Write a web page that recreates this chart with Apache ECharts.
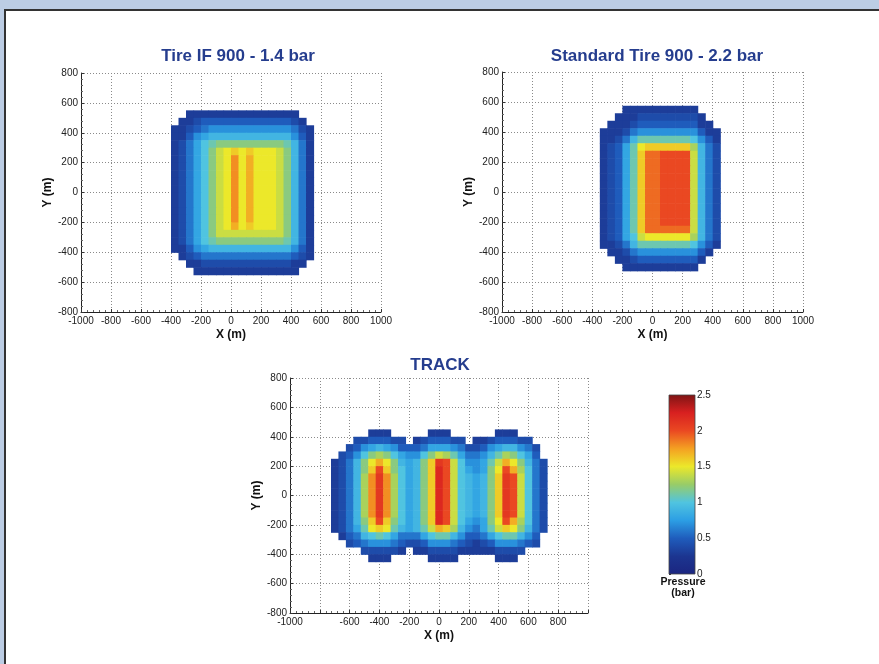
<!DOCTYPE html>
<html><head><meta charset="utf-8">
<script src="https://cdn.jsdelivr.net/npm/echarts@6/dist/echarts.min.js"></script>
<style>html,body{margin:0;padding:0;background:#bccde4}#c{width:879px;height:664px}</style>
</head><body><div id="c"></div>
<script>
// ================= DATA =================
const titles = ['Tire IF 900 - 1.4 bar', 'Standard Tire 900 - 2.2 bar', 'TRACK'];
const xTickLabels = [-1000, -800, -600, -400, -200, 0, 200, 400, 600, 800, 1000];
const trackXTickLabels = [-1000, -600, -400, -200, 0, 200, 400, 600, 800];
const pressureRange = [0, 2.5];

// Contact pressure, in tenths of bar, on 50 m cells (0 = no contact)
// --- Tire IF 900 - 1.4 bar ---
const ifX = [-375, -325, -275, -225, -175, -125, -75, -25, 25, 75, 125, 175, 225, 275, 325, 375, 425, 475, 525];
const ifY = [525, 475, 425, 375, 325, 275, 225, 175, 125, 75, 25, -25, -75, -125, -175, -225, -275, -325, -375, -425, -475, -525];
const ifP = [
  [0,0,3,3,3,3,3,3,3,3,3,3,3,3,3,3,3,0,0],
  [0,3,3,4,5,5,5,5,5,5,5,5,5,5,5,5,4,3,0],
  [3,3,4,5,6,7,7,7,7,7,7,7,7,7,7,7,6,4,3],
  [3,3,5,7,8,9,9,9,9,9,9,9,9,9,9,9,7,5,3],
  [3,4,6,8,10,11,12,12,12,12,12,12,12,12,12,11,9,6,3],
  [3,4,6,8,10,12,14,15,16,15,16,15,15,15,14,12,9,6,3],
  [3,4,6,8,10,12,14,15,18,15,17,15,15,15,14,12,9,6,3],
  [3,4,6,8,10,12,14,15,18,15,17,15,15,15,14,12,9,6,3],
  [3,4,6,8,10,12,14,15,18,15,17,15,15,15,14,12,9,6,3],
  [3,4,6,8,10,12,14,15,18,15,17,15,15,15,14,12,9,6,3],
  [3,4,6,8,10,12,14,15,18,15,17,15,15,15,14,12,9,6,3],
  [3,4,6,8,10,12,14,15,18,15,17,15,15,15,14,12,9,6,3],
  [3,4,6,8,10,12,14,15,18,15,17,15,15,15,14,12,9,6,3],
  [3,4,6,8,10,12,14,15,18,15,17,15,15,15,14,12,9,6,3],
  [3,4,6,8,10,12,14,15,18,15,17,15,15,15,14,12,9,6,3],
  [3,4,6,8,10,12,14,15,17,15,16,15,15,15,14,12,9,6,3],
  [3,4,6,8,10,12,14,14,14,14,14,14,14,14,14,12,9,6,3],
  [3,4,6,8,10,11,12,12,12,12,12,12,12,12,12,11,9,6,3],
  [3,3,5,7,8,9,9,9,9,9,9,9,9,9,9,9,7,5,3],
  [0,3,4,5,6,6,6,6,6,6,6,6,6,6,6,6,5,4,3],
  [0,0,3,3,4,4,4,4,4,4,4,4,4,4,4,4,3,3,0],
  [0,0,0,3,3,3,3,3,3,3,3,3,3,3,3,3,3,0,0]
];

// --- Standard Tire 900 - 2.2 bar ---
const stdX = [-325, -275, -225, -175, -125, -75, -25, 25, 75, 125, 175, 225, 275, 325, 375, 425];
const stdY = [550, 500, 450, 400, 350, 300, 250, 200, 150, 100, 50, 0, -50, -100, -150, -200, -250, -300, -350, -400, -450, -500];
const stdP = [
  [0,0,0,3,3,3,3,3,3,3,3,3,3,0,0,0],
  [0,0,3,3,3,4,4,4,4,4,4,4,4,3,0,0],
  [0,3,3,3,4,5,5,5,5,5,5,5,5,3,3,0],
  [3,3,3,4,6,7,7,7,7,7,7,7,7,5,3,3],
  [3,3,4,6,9,11,11,11,11,11,11,11,10,7,5,3],
  [3,4,5,8,11,15,16,16,16,16,16,16,13,9,6,4],
  [3,4,5,8,11,16,19,19,20,20,20,20,14,9,6,4],
  [3,4,5,8,11,16,19,19,20,20,20,20,14,9,6,4],
  [3,4,5,8,11,16,19,19,20,20,20,20,14,9,6,4],
  [3,4,5,8,11,16,19,19,20,20,20,20,14,9,6,4],
  [3,4,5,8,11,16,19,19,20,20,20,20,14,9,6,4],
  [3,4,5,8,11,16,19,19,20,20,20,20,14,9,6,4],
  [3,4,5,8,11,16,19,19,20,20,20,20,14,9,6,4],
  [3,4,5,8,11,16,19,19,20,20,20,20,14,9,6,4],
  [3,4,5,8,11,16,19,19,20,20,20,20,14,9,6,4],
  [3,4,5,8,11,16,19,19,20,20,20,20,14,9,6,4],
  [3,4,5,8,11,16,19,19,19,19,19,19,14,9,6,4],
  [3,4,5,8,10,14,15,15,15,15,15,15,13,9,6,4],
  [3,3,4,6,9,11,11,11,11,11,11,11,10,7,5,3],
  [0,3,3,4,6,7,7,7,7,7,7,7,7,5,3,0],
  [0,0,3,3,4,5,5,5,5,5,5,5,5,3,0,0],
  [0,0,0,3,3,3,3,3,3,3,3,3,3,0,0,0]
];

// --- TRACK ---
const trackX = [-700, -650, -600, -550, -500, -450, -400, -350, -300, -250, -200, -150, -100, -50, 0, 50, 100, 150, 200, 250, 300, 350, 400, 450, 500, 550, 600, 650, 700];
const trackY = [425, 375, 325, 275, 225, 175, 125, 75, 25, -25, -75, -125, -175, -225, -275, -325, -375, -425];
const trackP = [
  [0,0,0,0,0,3,3,3,0,0,0,0,0,3,3,3,0,0,0,0,0,0,3,3,3,0,0,0,0],
  [0,0,0,4,4,5,5,5,4,4,0,3,4,5,5,5,4,4,0,3,3,4,5,5,5,4,4,0,0],
  [0,0,4,5,7,8,9,8,7,5,5,5,6,8,8,8,7,6,4,4,5,7,8,9,9,7,6,4,0],
  [0,4,5,7,10,12,13,12,10,8,7,7,10,12,14,13,11,8,6,6,7,9,11,13,12,10,8,5,0],
  [3,4,6,9,12,15,17,15,12,9,8,9,12,16,21,20,14,10,7,7,8,11,14,17,15,12,9,6,4],
  [3,4,6,9,12,16,20,16,12,10,8,9,12,16,22,20,14,10,8,7,8,12,15,20,17,13,10,6,4],
  [3,4,6,9,13,18,21,18,13,10,8,9,12,16,22,20,14,10,9,8,9,12,16,21,20,14,10,6,4],
  [3,4,6,9,13,18,21,18,13,10,8,9,12,16,22,20,14,10,9,8,9,12,16,21,20,14,10,6,4],
  [3,4,6,9,13,18,21,18,13,10,8,9,12,16,22,20,14,10,9,8,9,12,16,21,20,14,10,6,4],
  [3,4,6,9,13,18,21,18,13,10,8,9,12,16,22,20,14,10,9,8,9,12,16,21,20,14,10,6,4],
  [3,4,6,9,13,18,21,18,13,10,8,9,12,16,22,20,14,10,9,8,9,12,16,21,20,14,10,6,4],
  [3,4,6,9,13,18,21,18,13,10,8,9,12,16,22,20,14,10,9,8,9,12,16,21,20,14,10,6,4],
  [3,4,6,9,12,16,20,16,12,10,8,9,12,16,22,20,14,10,8,7,8,12,15,20,17,13,10,6,4],
  [3,4,6,8,11,15,16,15,11,9,8,9,11,14,17,16,13,9,7,6,8,11,14,16,15,12,9,6,4],
  [0,3,5,6,9,10,11,10,8,6,6,6,8,10,11,11,9,7,5,5,6,8,10,11,11,9,7,5,0],
  [0,0,4,5,6,7,7,7,6,5,4,4,5,7,7,7,6,5,4,3,4,5,7,7,7,6,5,4,0],
  [0,0,0,0,4,4,4,4,4,3,0,3,3,4,4,4,4,3,3,3,3,3,4,4,4,4,0,0,0],
  [0,0,0,0,0,3,3,3,0,0,0,0,0,3,3,3,3,0,0,0,0,0,3,3,3,0,0,0,0]
];

// ================= STYLE / BUILD =================
const CELL = 50;
const PALETTE = ['#1b2580', '#1c3590', '#1f5cbc', '#2c9ee4', '#50c4e0', '#98cc68', '#ece82a', '#f4a022', '#ea4822', '#d82020', '#7e1414'];
const LABEL_FONT = "'Liberation Sans',Arial,sans-serif";
const BOLD = "'Liberation Sans',Arial,sans-serif";
const TITLE_COLOR = '#253d8e';

function buildCells(xs, ys, rows) {
  const out = [];
  rows.forEach((row, r) => row.forEach((v, c) => {
    if (v > 0) out.push([xs[c], ys[r], v / 10]);
  }));
  return out;
}
function cellItem(params, api) {
  const x = api.value(0), y = api.value(1), h = CELL / 2;
  const a = api.coord([x - h, y + h]);
  const b = api.coord([x + h, y - h]);
  return { type: 'rect', shape: { x: a[0], y: a[1], width: b[0] - a[0] + 0.6, height: b[1] - a[1] + 0.6 },
           style: { fill: api.visual('color') } };
}

const grids = [
  { left: 81, top: 73, width: 300, height: 239 },
  { left: 502, top: 72, width: 301, height: 240 },
  { left: 290, top: 378, width: 298, height: 235 },
  { left: 669, top: 395, width: 26, height: 179 }
];

function xAxisFor(gi, labels) {
  return {
    gridIndex: gi, type: 'value', min: -1000, max: 1000, interval: 200,
    axisLine: { show: true, onZero: false, lineStyle: { color: '#222', width: 1 } },
    axisTick: { show: true, inside: true, length: 3, lineStyle: { color: '#333' } },
    minorTick: { show: true, splitNumber: 5, length: 2, lineStyle: { color: '#666' } },
    axisLabel: { fontSize: 10, color: '#222', fontFamily: LABEL_FONT, margin: 4, showMinLabel: true, showMaxLabel: true,
                 formatter: v => labels.includes(v) ? String(v) : '' },
    splitLine: { show: true, lineStyle: { color: '#8a8a8a', type: [1, 2], width: 1 } },
    name: 'X (m)', nameLocation: 'middle', nameGap: 17,
    nameTextStyle: { fontSize: 12, fontWeight: 'bold', color: '#111', fontFamily: BOLD }
  };
}
function yAxisFor(gi, gap) {
  return {
    gridIndex: gi, type: 'value', min: -800, max: 800, interval: 200,
    axisLine: { show: true, onZero: false, lineStyle: { color: '#222', width: 1 } },
    axisTick: { show: true, inside: true, length: 3, lineStyle: { color: '#333' } },
    minorTick: { show: true, splitNumber: 5, length: 2, lineStyle: { color: '#666' } },
    axisLabel: { fontSize: 10, color: '#222', fontFamily: LABEL_FONT, margin: 3, showMinLabel: true, showMaxLabel: true },
    splitLine: { show: true, lineStyle: { color: '#8a8a8a', type: [1, 2], width: 1 } },
    name: 'Y (m)', nameLocation: 'middle', nameGap: gap,
    nameTextStyle: { fontSize: 12, fontWeight: 'bold', color: '#111', fontFamily: BOLD }
  };
}

const titleStyle = { color: TITLE_COLOR, fontSize: 17, fontWeight: 'bold', fontFamily: BOLD };

const option = {
  backgroundColor: '#bccde4',
  animation: false,
  graphic: [{ type: 'rect', z: -10, silent: true, shape: { x: 5, y: 10, width: 900, height: 700 },
              style: { fill: '#ffffff', stroke: '#333333', lineWidth: 2 } }],
  title: [
    { text: titles[0], left: 238, top: 48, textAlign: 'center', padding: 0, textStyle: titleStyle },
    { text: titles[1], left: 657, top: 48, textAlign: 'center', padding: 0, textStyle: titleStyle },
    { text: titles[2], left: 440, top: 357, textAlign: 'center', padding: 0, textStyle: titleStyle },
    { text: 'Pressure\n(bar)', left: 683, top: 577, textAlign: 'center', padding: 0,
      textStyle: { color: '#111', fontSize: 10.5, fontWeight: 'bold', fontFamily: BOLD, lineHeight: 11 } }
  ],
  grid: grids,
  xAxis: [
    xAxisFor(0, xTickLabels), xAxisFor(1, xTickLabels), xAxisFor(2, trackXTickLabels),
    { gridIndex: 3, type: 'value', min: 0, max: 1, show: false }
  ],
  yAxis: [
    yAxisFor(0, 23), yAxisFor(1, 24), yAxisFor(2, 27),
    { gridIndex: 3, type: 'value', min: pressureRange[0], max: pressureRange[1], interval: 0.5, position: 'right',
      axisLine: { show: false },
      axisTick: { show: true, inside: false, length: 2, lineStyle: { color: '#333' } },
      axisLabel: { fontSize: 10, color: '#222', fontFamily: LABEL_FONT, margin: 2 },
      splitLine: { show: false } }
  ],
  visualMap: { type: 'continuous', show: false, min: pressureRange[0], max: pressureRange[1], dimension: 2,
               seriesIndex: [0, 1, 2], inRange: { color: PALETTE } },
  series: [
    { type: 'custom', xAxisIndex: 0, yAxisIndex: 0, renderItem: cellItem, silent: true,
      dimensions: ['x', 'y', 'p'], encode: { x: 0, y: 1 }, data: buildCells(ifX, ifY, ifP) },
    { type: 'custom', xAxisIndex: 1, yAxisIndex: 1, renderItem: cellItem, silent: true,
      dimensions: ['x', 'y', 'p'], encode: { x: 0, y: 1 }, data: buildCells(stdX, stdY, stdP) },
    { type: 'custom', xAxisIndex: 2, yAxisIndex: 2, renderItem: cellItem, silent: true,
      dimensions: ['x', 'y', 'p'], encode: { x: 0, y: 1 }, data: buildCells(trackX, trackY, trackP) },
    { type: 'custom', xAxisIndex: 3, yAxisIndex: 3, silent: true, z: 1,
      encode: { x: [0, 2], y: [1, 3] },
      data: [[0, pressureRange[0], 1, pressureRange[1]]],
      renderItem: (params, api) => {
        const a = api.coord([api.value(0), api.value(3)]);
        const b = api.coord([api.value(2), api.value(1)]);
        return { type: 'rect', shape: { x: a[0], y: a[1], width: b[0] - a[0], height: b[1] - a[1] },
          style: { fill: { type: 'linear', x: 0, y: 1, x2: 0, y2: 0,
                   colorStops: PALETTE.map((c, i) => ({ offset: i / (PALETTE.length - 1), color: c })) },
                   stroke: '#444', lineWidth: 0.8 } };
      } }
  ]
};

const chart = echarts.init(document.getElementById('c'), null, { renderer: 'canvas' });
chart.setOption(option);
</script>
</body></html>
